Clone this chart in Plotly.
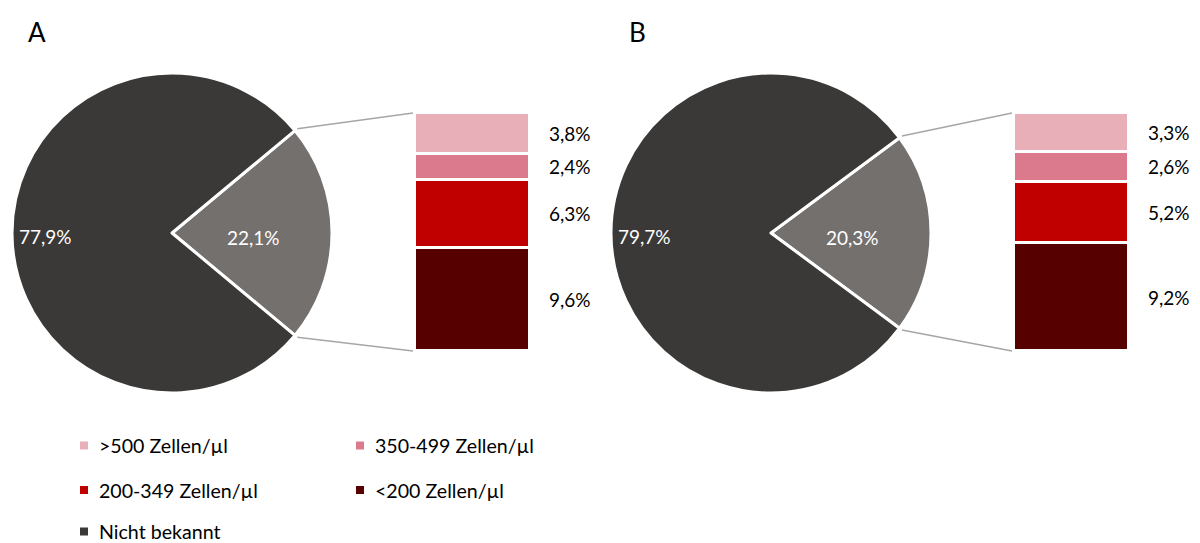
import math
import plotly.graph_objects as go

# ---------------- data ----------------
panels = ["A", "B"]
categories = [">500 Zellen/µl", "350-499 Zellen/µl", "200-349 Zellen/µl", "<200 Zellen/µl"]
unknown_label = "Nicht bekannt"
known_label = "Bekannt"
known_A = 22.1
unknown_A = 77.9
known_B = 20.3
unknown_B = 79.7
bars_A = [3.8, 2.4, 6.3, 9.6]
bars_B = [3.3, 2.6, 5.2, 9.2]

# ---------------- style ----------------
W, H = 1200, 543
FONT = "Lato"
FS = 19
FS_LEG = 19.6
cat_colors = ["#e9afb8", "#db7a8c", "#c00000", "#560000"]
dark = "#3a3937"
gray = "#74706e"
conn_color = "#a6a6a6"

def px(x):
    return x / W

def py(y):
    return 1 - y / H

def fmt(v):
    return f"{v:.1f}".replace(".", ",") + "%"

fig = go.Figure()

geo = {
    "A": dict(cx=172, cy=233, r=160, bx0=415, bx1=530, by0=113, by1=351, lab=26, xa="x", ya="y"),
    "B": dict(cx=771, cy=233, r=160, bx0=1014, bx1=1129, by0=113, by1=351, lab=627, xa="x2", ya="y2"),
}
data = {
    "A": (known_A, unknown_A, bars_A),
    "B": (known_B, unknown_B, bars_B),
}

annotations = []
shapes = []

for p in panels:
    g = geo[p]
    known, unknown, bars = data[p]
    half = known / 100 * 180.0
    fig.add_trace(go.Pie(
        labels=[known_label, unknown_label],
        values=[known, unknown],
        sort=False,
        direction="clockwise",
        rotation=90 - half,
        marker=dict(colors=[gray, dark], line=dict(color="white", width=3)),
        textinfo="none",
        hoverinfo="label+value",
        showlegend=False,
        domain=dict(x=[px(g["cx"] - g["r"]), px(g["cx"] + g["r"])],
                    y=[py(g["cy"] + g["r"]), py(g["cy"] - g["r"])]),
    ))
    # pie slice labels on the slice bisectors (known slice points right, unknown left)
    for val, ang_deg, frac in ((known, 0.0, 0.51), (unknown, 180.0, 0.79)):
        a = math.radians(ang_deg)
        annotations.append(dict(
            xref="paper", yref="paper",
            x=px(g["cx"] + frac * g["r"] * math.cos(a)),
            y=py(g["cy"] + 4 - frac * g["r"] * math.sin(a)),
            text=fmt(val), showarrow=False, xanchor="center", yanchor="middle",
            font=dict(size=FS, family=FONT, color="white"),
        ))
    # stacked bar: bottom segment = last category
    for i in reversed(range(len(categories))):
        fig.add_trace(go.Bar(
            x=[0], y=[bars[i]], name=categories[i],
            marker=dict(color=cat_colors[i], line=dict(color="white", width=3)),
            xaxis=g["xa"], yaxis=g["ya"],
            showlegend=False,
            hoverinfo="name+y",
        ))
    cum = 0
    for i in reversed(range(len(categories))):
        v = bars[i]
        annotations.append(dict(
            xref=g["xa"], yref=g["ya"], x=0.5, y=cum + v / 2,
            text=fmt(v), showarrow=False, xanchor="left", xshift=17,
            font=dict(size=FS, family=FONT, color="#000000"),
        ))
        cum += v
    # connector lines
    rr = g["r"] + 3
    ang = math.radians(half)
    ex = g["cx"] + rr * math.cos(ang)
    ey_top = g["cy"] - rr * math.sin(ang)
    ey_bot = g["cy"] + rr * math.sin(ang)
    for ey, by in ((ey_top, g["by0"]), (ey_bot, g["by1"])):
        shapes.append(dict(type="line", xref="paper", yref="paper",
                           x0=px(ex), y0=py(ey), x1=px(g["bx0"] - 2), y1=py(by),
                           line=dict(color=conn_color, width=1.5)))
    annotations.append(dict(xref="paper", yref="paper", x=px(g["lab"]), y=py(32),
                            text=p, showarrow=False, xanchor="left", yanchor="middle",
                            font=dict(size=26, family=FONT, color="#000000")))

# ---------------- legend (two columns, three rows) ----------------
legend_labels = categories + [unknown_label]
legend_colors = cat_colors + [dark]
col_x = [80, 356]
row_y = [445.5, 490, 531.5]
for k, (lab, col) in enumerate(zip(legend_labels, legend_colors)):
    cx0 = col_x[k % 2]
    cy0 = row_y[k // 2]
    shapes.append(dict(type="rect", xref="paper", yref="paper",
                       x0=px(cx0), x1=px(cx0 + 8), y0=py(cy0 + 4), y1=py(cy0 - 4),
                       fillcolor=col, line=dict(width=0)))
    annotations.append(dict(xref="paper", yref="paper", x=px(cx0 + 17), y=py(cy0),
                            text=lab, showarrow=False, xanchor="left", yanchor="middle",
                            font=dict(size=FS_LEG, family=FONT, color="#000000")))

layout_axes = {}
for p in panels:
    g = geo[p]
    total = sum(data[p][2])
    xk = "xaxis" if g["xa"] == "x" else "xaxis2"
    yk = "yaxis" if g["ya"] == "y" else "yaxis2"
    layout_axes[xk] = dict(domain=[px(g["bx0"]), px(g["bx1"])], range=[-0.5, 0.5],
                           visible=False, fixedrange=True, anchor=g["ya"])
    layout_axes[yk] = dict(domain=[py(g["by1"]), py(g["by0"])], range=[0, total],
                           visible=False, fixedrange=True, anchor=g["xa"])

fig.update_layout(
    width=W, height=H,
    margin=dict(l=0, r=0, t=0, b=0),
    paper_bgcolor="white", plot_bgcolor="white",
    separators=",.",
    barmode="stack", bargap=0,
    showlegend=False,
    font=dict(family=FONT, size=FS, color="#000000"),
    annotations=annotations, shapes=shapes,
    **layout_axes,
)

fig.write_html("out.html", config={"displayModeBar": False},
               post_script="document.body.style.margin='0';")
